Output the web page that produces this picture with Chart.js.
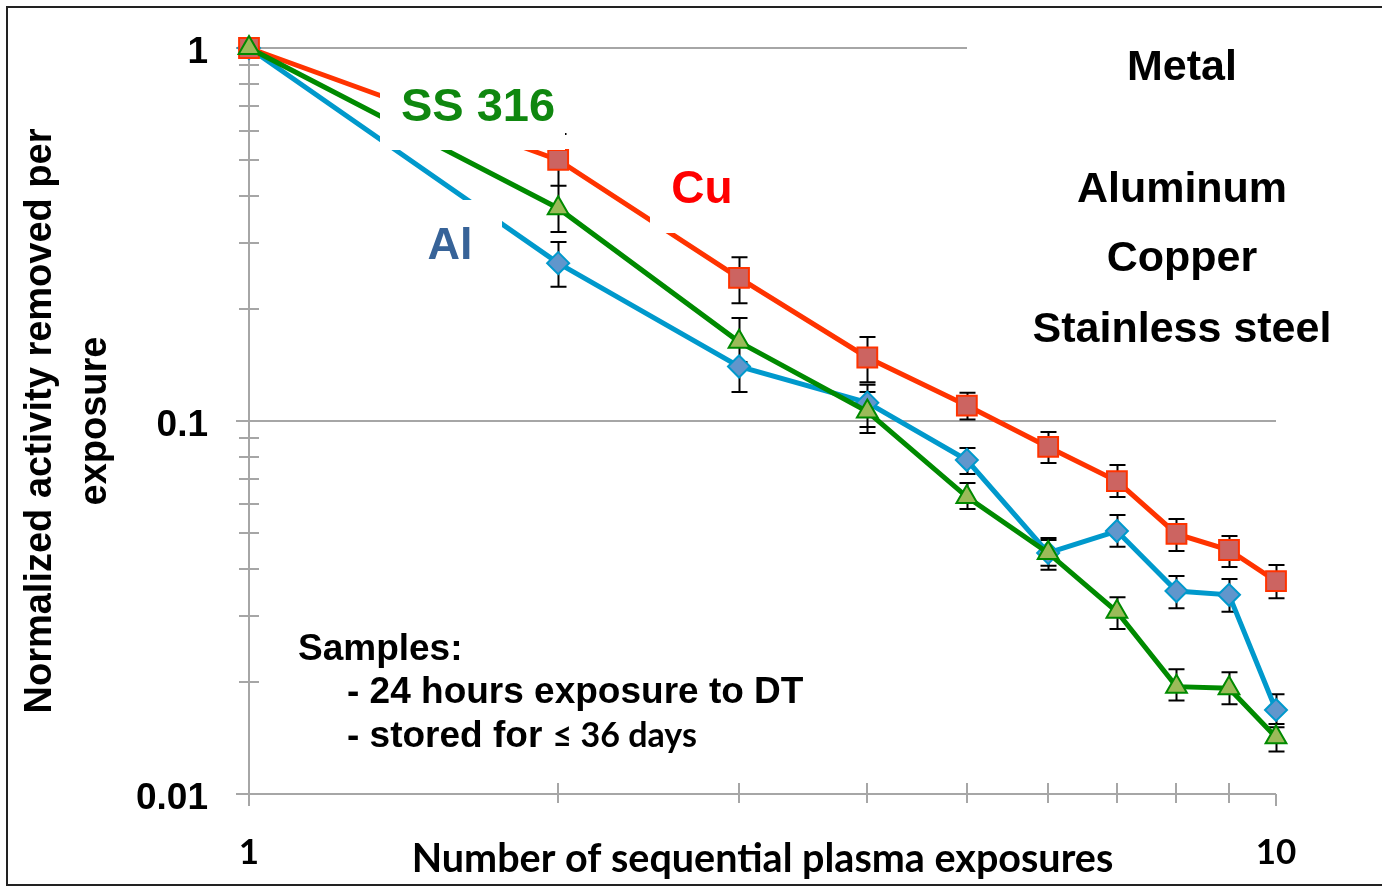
<!DOCTYPE html>
<html>
<head>
<meta charset="utf-8">
<script src="https://cdn.jsdelivr.net/npm/chart.js@4.4.1/dist/chart.umd.min.js"></script>
<style>
  html, body { margin: 0; padding: 0; background: #fff; }
  #plasma-chart { display: block; }
</style>
</head>
<body>
<canvas id="plasma-chart" width="1382" height="886"></canvas>
<script>
// Number of sequential plasma exposures
const exposures = [1, 2, 3, 4, 5, 6, 7, 8, 9, 10];

// Normalized activity removed per exposure
const ssValues = [1, 0.372, 0.163, 0.106, 0.0626, 0.0443, 0.0308, 0.0194, 0.0192, 0.0142];
const ssLow = [null, 0.321, 0.144, 0.0929, 0.0581, 0.0399, 0.0277, 0.0178, 0.0174, 0.013];
const ssHigh = [null, 0.427, 0.189, 0.1196, 0.0682, 0.0486, 0.0337, 0.0216, 0.0212, 0.0151];

const cuValues = [1, 0.501, 0.242, 0.148, 0.110, 0.0852, 0.069, 0.0498, 0.0451, 0.0372];
const cuLow = [null, 0.427, 0.207, 0.127, 0.101, 0.0772, 0.0626, 0.0448, 0.0406, 0.0335];
const cuHigh = [null, 0.588, 0.275, 0.168, 0.119, 0.0934, 0.0762, 0.0546, 0.0492, 0.0411];

const alValues = [1, 0.265, 0.140, 0.112, 0.0786, 0.0443, 0.0507, 0.035, 0.0342, 0.0168];
const alLow = [null, 0.229, 0.1196, 0.0963, 0.0721, 0.0409, 0.046, 0.0315, 0.0308, 0.0154];
const alHigh = [null, 0.302, 0.160, 0.125, 0.0847, 0.048, 0.056, 0.0384, 0.0377, 0.0185];

// Tick values
const xTicks = [1, 2, 3, 4, 5, 6, 7, 8, 9, 10];
const xTickLabels = [1, 10];
const yMajorTicks = [0.01, 0.1, 1];
const yTicks = [0.01, 0.02, 0.03, 0.04, 0.05, 0.06, 0.07, 0.08, 0.09,
  0.1, 0.2, 0.3, 0.4, 0.5, 0.6, 0.7, 0.8, 0.9, 1];

const legendTitle = 'Metal';
const legendNames = ['Aluminum', 'Copper', 'Stainless steel'];
const noteLines = ['Samples:', '- 24 hours exposure to DT', '- stored for '];
const noteTail = '\u2264 36 days';

const ARIAL = "'Liberation Sans', Arial, sans-serif";
const CALIBRI = "Lato, 'Open Sans', sans-serif";
const AXIS_GREY = '#a6a6a6';

function toPoints(values) {
  return exposures.map((x, i) => ({ x: x, y: values[i] }));
}

// Axes, ticks, gridlines and error bars
const decorPlugin = {
  id: 'decor',
  beforeDraw(chart) {
    const ctx = chart.ctx;
    ctx.save();
    ctx.fillStyle = '#fff';
    ctx.fillRect(0, 0, chart.width, chart.height);
    ctx.restore();
  },
  beforeDatasetsDraw(chart) {
    const { ctx, chartArea: a, scales: { x, y } } = chart;
    ctx.save();
    ctx.strokeStyle = AXIS_GREY;
    ctx.lineWidth = 2;
    ctx.beginPath();
    // horizontal gridlines at the decades
    yMajorTicks.forEach((v) => {
      const py = Math.round(y.getPixelForValue(v));
      ctx.moveTo(a.left - 13, py);
      ctx.lineTo(a.right, py);
    });
    // y axis
    ctx.moveTo(a.left, a.top);
    ctx.lineTo(a.left, a.bottom);
    // y minor ticks crossing the axis
    yTicks.forEach((v) => {
      if (yMajorTicks.includes(v)) return;
      const py = Math.round(y.getPixelForValue(v));
      ctx.moveTo(a.left - 10, py);
      ctx.lineTo(a.left + 10, py);
    });
    // x ticks crossing the axis
    xTicks.forEach((v) => {
      const px = Math.round(x.getPixelForValue(v));
      const major = xTickLabels.includes(v);
      ctx.moveTo(px, major ? a.bottom : a.bottom - 11);
      ctx.lineTo(px, a.bottom + (major ? 12 : 9));
    });
    ctx.stroke();

    // error bars
    ctx.strokeStyle = '#000';
    ctx.lineWidth = 2;
    ctx.beginPath();
    chart.data.datasets.forEach((ds) => {
      exposures.forEach((ex, i) => {
        if (ds.errLow[i] == null) return;
        const px = Math.round(x.getPixelForValue(ex)) + 0.5;
        const lo = y.getPixelForValue(ds.errLow[i]);
        const hi = y.getPixelForValue(ds.errHigh[i]);
        ctx.moveTo(px, lo);
        ctx.lineTo(px, hi);
        ctx.moveTo(px - 8, lo);
        ctx.lineTo(px + 8, lo);
        ctx.moveTo(px - 8, hi);
        ctx.lineTo(px + 8, hi);
      });
    });
    ctx.stroke();
    ctx.restore();
  },
  afterDatasetsDraw(chart) {
    const ctx = chart.ctx;
    ctx.save();

    // white text boxes sitting over the lines
    ctx.fillStyle = '#fff';
    ctx.fillRect(380, 68, 185, 82);
    ctx.fillRect(650, 150, 100, 83);
    ctx.fillRect(415, 200, 87, 75);
    ctx.fillRect(967, 12, 415, 350);

    ctx.textAlign = 'center';
    ctx.textBaseline = 'alphabetic';
    ctx.font = 'bold 47px ' + ARIAL;
    ctx.fillStyle = '#0f870f';
    ctx.fillText('SS 316', 478, 121);
    ctx.font = 'bold 46px ' + ARIAL;
    ctx.fillStyle = '#ff0000';
    ctx.fillText('Cu', 702, 203);
    ctx.font = 'bold 45px ' + ARIAL;
    ctx.fillStyle = '#376398';
    ctx.fillText('Al', 450, 259);

    // legend block
    ctx.fillStyle = '#000';
    ctx.font = 'bold 43px ' + ARIAL;
    ctx.fillText(legendTitle, 1182, 80);
    const legendBase = [202, 271, 342];
    legendNames.forEach((name, i) => ctx.fillText(name, 1182, legendBase[i]));

    // sample note
    ctx.textAlign = 'left';
    ctx.font = 'bold 37px ' + ARIAL;
    ctx.fillText(noteLines[0], 298, 660);
    ctx.fillText(noteLines[1], 347, 703);
    ctx.fillText(noteLines[2], 347, 747);
    const w = ctx.measureText(noteLines[2]).width;
    ctx.font = 'bold 34px ' + CALIBRI;
    ctx.fillText(noteTail, 347 + w, 747);

    // outer frame
    ctx.strokeStyle = '#222';
    ctx.lineWidth = 2;
    ctx.strokeRect(7, 7, 1390, 878);
    ctx.restore();
  },
};

const plasmaData = {
  datasets: [
    {
      label: 'Stainless steel',
      data: toPoints(ssValues),
      errLow: ssLow,
      errHigh: ssHigh,
      borderColor: '#008a00',
      backgroundColor: '#9bbb59',
      borderWidth: 5,
      pointStyle: 'triangle',
      pointRadius: 12,
      pointBorderWidth: 2,
      pointBorderColor: '#008a00',
      pointBackgroundColor: '#9bbb59',
      clip: false,
    },
    {
      label: 'Copper',
      data: toPoints(cuValues),
      errLow: cuLow,
      errHigh: cuHigh,
      borderColor: '#ff3300',
      backgroundColor: '#cc6461',
      borderWidth: 5,
      pointStyle: 'rect',
      pointRadius: 14,
      pointBorderWidth: 2,
      pointBorderColor: '#ff3300',
      pointBackgroundColor: '#cc6461',
      clip: false,
    },
    {
      label: 'Aluminum',
      data: toPoints(alValues),
      errLow: alLow,
      errHigh: alHigh,
      borderColor: '#0099cc',
      backgroundColor: '#6096cc',
      borderWidth: 5,
      pointStyle: 'rectRot',
      pointRadius: 11,
      pointBorderWidth: 2,
      pointBorderColor: '#0099cc',
      pointBackgroundColor: '#6096cc',
      clip: false,
    },
  ],
};

const plasmaOptions = {
  responsive: false,
  animation: false,
  devicePixelRatio: 1,
  layout: { padding: { left: 0, right: 106, top: 48, bottom: 0 } },
  plugins: {
    legend: { display: false },
    tooltip: { enabled: false },
  },
  elements: { line: { tension: 0 } },
  scales: {
    x: {
      type: 'logarithmic',
      position: 'bottom',
      min: 1,
      max: 10,
      grid: { display: false, drawTicks: false },
      border: { display: false },
      afterBuildTicks: (scale) => {
        scale.ticks = xTicks.map((v) => ({ value: v }));
      },
      afterFit: (scale) => {
        scale.height = 92;
        scale.paddingLeft = 0;
        scale.paddingRight = 0;
      },
      ticks: {
        autoSkip: false,
        maxRotation: 0,
        padding: 38,
        color: '#000',
        font: { family: CALIBRI, size: 35, weight: 'bold' },
        callback: (value) => (xTickLabels.includes(value) ? String(value) : ''),
      },
      title: {
        display: true,
        text: 'Number of sequential plasma exposures',
        color: '#000',
        font: { family: CALIBRI, size: 39.5, weight: 'bold' },
        padding: { top: 0, bottom: 3 },
      },
    },
    y: {
      type: 'logarithmic',
      position: 'left',
      min: 0.01,
      max: 1,
      grid: { display: false, drawTicks: false },
      border: { display: false },
      afterBuildTicks: (scale) => {
        scale.ticks = yTicks.map((v) => ({ value: v, major: yMajorTicks.includes(v) }));
      },
      afterFit: (scale) => {
        scale.width = 249;
        scale.paddingTop = 0;
        scale.paddingBottom = 0;
      },
      ticks: {
        autoSkip: false,
        padding: 41,
        labelOffset: 5,
        color: '#000',
        font: { family: ARIAL, size: 37, weight: 'bold' },
        callback: (value) => (yMajorTicks.includes(value) ? String(value) : ''),
      },
      title: {
        display: true,
        text: ['Normalized activity removed per', 'exposure'],
        color: '#000',
        font: { family: ARIAL, size: 38, weight: 'bold', lineHeight: 1.45 },
        padding: { top: 13, bottom: 0 },
      },
    },
  },
};

const plasmaCanvas = document.getElementById('plasma-chart');
const plasmaChart = new Chart(plasmaCanvas, {
  type: 'line',
  data: plasmaData,
  options: plasmaOptions,
  plugins: [decorPlugin],
});
</script>
</body>
</html>
